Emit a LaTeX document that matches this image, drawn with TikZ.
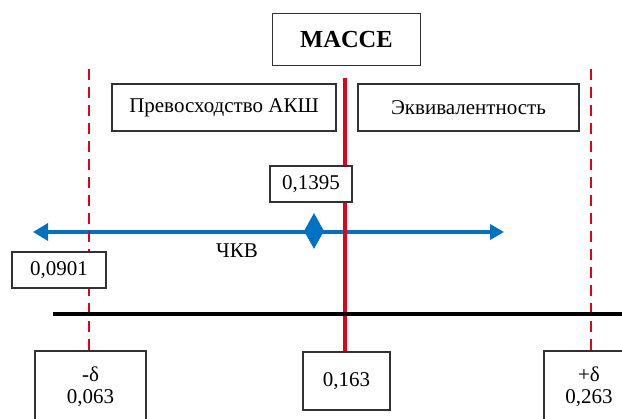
\documentclass[tikz,border=0pt]{standalone}
\usepackage{fontspec}
\setmainfont{Liberation Serif}
\usetikzlibrary{arrows.meta,shapes.geometric}
\definecolor{mred}{RGB}{228,0,22}
\definecolor{mblue}{RGB}{0,114,198}
\definecolor{boxline}{RGB}{50,50,50}
\tikzset{
  valbox/.style={draw=boxline, line width=1.5pt, fill=white, inner sep=0pt,
    align=center, font=\fontsize{21}{22}\selectfont},
  boundary/.style={draw=mred, line width=2.6pt, dash pattern=on 11pt off 7pt},
  margin/.style={draw=mred, line width=3.4pt},
  axis/.style={draw=black, line width=3.8pt},
  ci/.style={draw=mblue, line width=3.4pt, {Triangle[length=15pt,width=17pt]}-{Triangle[length=14pt,width=15pt]}},
}
\begin{document}
\begin{tikzpicture}[x=1pt,y=-1pt]
\useasboundingbox (0,0) rectangle (622,419);
\clip (0,0) rectangle (622,419);
\fill[white] (0,0) rectangle (622,419);

% confidence interval
\coordinate (ciL) at (33,232);
\coordinate (ciR) at (504,232);
\draw[ci] (ciL) -- (ciR);
\node[diamond, fill=mblue, inner sep=0pt, minimum width=20pt, minimum height=36pt] (est) at (314,231) {};
\node[font=\fontsize{21}{22}\selectfont] (ckv) at (237,251) {ЧКВ};

% boundaries and central value
\coordinate (dLtop) at (89,69);
\coordinate (dLbot) at (89,352);
\coordinate (dRtop) at (591,69);
\coordinate (dRbot) at (591,352);
\coordinate (mtop) at (345,78);
\coordinate (mbot) at (345,353);
\draw[boundary] (dLtop) -- (dLbot);
\draw[boundary] (dRtop) -- (dRbot);
\draw[margin] (mtop) -- (mbot);

% horizontal axis
\coordinate (axL) at (53,314);
\coordinate (axR) at (625,314);
\draw[axis] (axL) -- (axR);

% labelled boxes
\node[valbox, minimum width=148pt, minimum height=52pt, font=\fontsize{24.5}{26}\selectfont\bfseries] (macce) at (346.5,39.5) {MACCE};
\node[valbox, minimum width=224pt, minimum height=47pt] (sup) at (224,107.5) {Превосходство АКШ};
\node[valbox, minimum width=221pt, minimum height=47pt] (eqv) at (468.5,107.5) {Эквивалентность};
\node[valbox, minimum width=82pt, minimum height=36pt] (v1395) at (311,184) {0,1395};
\node[valbox, minimum width=94pt, minimum height=36pt] (v0901) at (59,270) {0,0901};
\node[valbox, minimum width=111pt, minimum height=72pt] (lo) at (90.5,387) {-δ\\0,063};
\node[valbox, minimum width=87pt, minimum height=58pt] (mid) at (346.5,381) {0,163};
\node[valbox, minimum width=90pt, minimum height=72pt] (hi) at (589,387) {+δ\\0,263};
\end{tikzpicture}
\end{document}
